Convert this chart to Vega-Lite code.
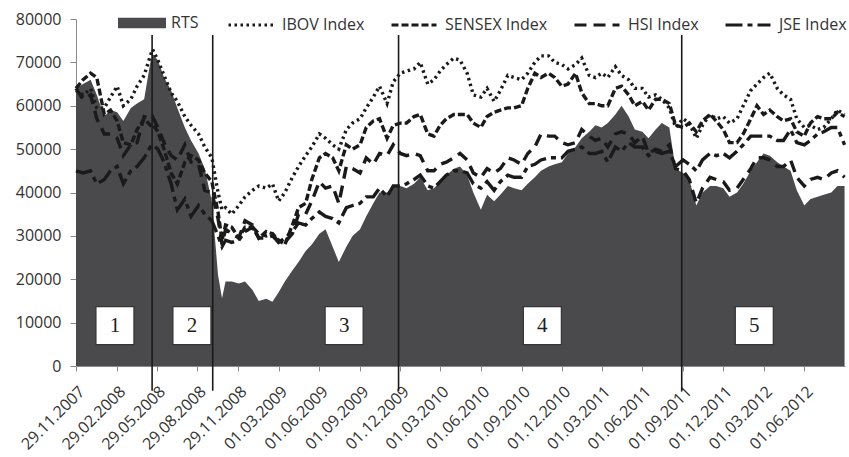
{
  "$schema": "https://vega.github.io/schema/vega-lite/v6.json",
  "width": 769,
  "height": 347,
  "autosize": {"type": "none"},
  "padding": {"left": 76, "top": 19, "right": 4, "bottom": 91},
  "background": "white",
  "config": {"view": {"stroke": null}, "font": "Open Sans"},
  "datasets": {
    "idx": [
      {"d":"2007-11-29","RTS":64000,"IBOV":63500,"SENSEX":64000,"HSI":64000,"JSE":45000},
      {"d":"2007-12-15","RTS":65000,"IBOV":62500,"SENSEX":66000,"HSI":61500,"JSE":44500},
      {"d":"2008-01-01","RTS":66000,"IBOV":63900,"SENSEX":67500,"HSI":62500,"JSE":45000},
      {"d":"2008-01-15","RTS":62500,"IBOV":59500,"SENSEX":66500,"HSI":57000,"JSE":42000},
      {"d":"2008-02-01","RTS":57500,"IBOV":59500,"SENSEX":58000,"HSI":53500,"JSE":43000},
      {"d":"2008-02-15","RTS":59000,"IBOV":62000,"SENSEX":59000,"HSI":53500,"JSE":45000},
      {"d":"2008-03-01","RTS":58500,"IBOV":64500,"SENSEX":56500,"HSI":52500,"JSE":46000},
      {"d":"2008-03-15","RTS":56500,"IBOV":60000,"SENSEX":51500,"HSI":48500,"JSE":42000},
      {"d":"2008-04-01","RTS":59500,"IBOV":61500,"SENSEX":51000,"HSI":51000,"JSE":45000},
      {"d":"2008-04-15","RTS":60500,"IBOV":64500,"SENSEX":54500,"HSI":51500,"JSE":46000},
      {"d":"2008-05-01","RTS":61500,"IBOV":67000,"SENSEX":57000,"HSI":57500,"JSE":48000},
      {"d":"2008-05-15","RTS":70000,"IBOV":71500,"SENSEX":55500,"HSI":57000,"JSE":50500},
      {"d":"2008-05-20","RTS":72000,"IBOV":73000,"SENSEX":55800,"HSI":57500,"JSE":51000},
      {"d":"2008-06-01","RTS":70500,"IBOV":70500,"SENSEX":54000,"HSI":55000,"JSE":50000},
      {"d":"2008-06-15","RTS":66500,"IBOV":67000,"SENSEX":50000,"HSI":51500,"JSE":47000},
      {"d":"2008-07-01","RTS":63500,"IBOV":63000,"SENSEX":44500,"HSI":48500,"JSE":42000},
      {"d":"2008-07-15","RTS":59500,"IBOV":61000,"SENSEX":42000,"HSI":47500,"JSE":36000},
      {"d":"2008-08-01","RTS":55000,"IBOV":57500,"SENSEX":47000,"HSI":51000,"JSE":38500},
      {"d":"2008-08-15","RTS":52000,"IBOV":55500,"SENSEX":48500,"HSI":47000,"JSE":34500},
      {"d":"2008-09-01","RTS":49000,"IBOV":53500,"SENSEX":47500,"HSI":46500,"JSE":37000},
      {"d":"2008-09-15","RTS":45500,"IBOV":50500,"SENSEX":44500,"HSI":40500,"JSE":35000},
      {"d":"2008-10-01","RTS":38000,"IBOV":48000,"SENSEX":42500,"HSI":40000,"JSE":33500},
      {"d":"2008-10-15","RTS":21000,"IBOV":40000,"SENSEX":35500,"HSI":34000,"JSE":30000},
      {"d":"2008-10-24","RTS":15600,"IBOV":36000,"SENSEX":29000,"HSI":28000,"JSE":27500},
      {"d":"2008-11-01","RTS":19500,"IBOV":36500,"SENSEX":32500,"HSI":31500,"JSE":29000},
      {"d":"2008-11-15","RTS":19500,"IBOV":35000,"SENSEX":32000,"HSI":30500,"JSE":28500},
      {"d":"2008-12-01","RTS":19000,"IBOV":37000,"SENSEX":29500,"HSI":29500,"JSE":29000},
      {"d":"2008-12-15","RTS":19500,"IBOV":39000,"SENSEX":32000,"HSI":33500,"JSE":31000},
      {"d":"2009-01-01","RTS":17500,"IBOV":40500,"SENSEX":32000,"HSI":32500,"JSE":32000},
      {"d":"2009-01-15","RTS":15000,"IBOV":41500,"SENSEX":29500,"HSI":29500,"JSE":30500},
      {"d":"2009-02-01","RTS":15500,"IBOV":41000,"SENSEX":31000,"HSI":29500,"JSE":30000},
      {"d":"2009-02-15","RTS":14800,"IBOV":42000,"SENSEX":30500,"HSI":30000,"JSE":30500},
      {"d":"2009-03-01","RTS":17000,"IBOV":38000,"SENSEX":29000,"HSI":28500,"JSE":28500},
      {"d":"2009-03-15","RTS":19500,"IBOV":40000,"SENSEX":28000,"HSI":28500,"JSE":29500},
      {"d":"2009-04-01","RTS":22000,"IBOV":43500,"SENSEX":32500,"HSI":30500,"JSE":31000},
      {"d":"2009-04-15","RTS":24000,"IBOV":46000,"SENSEX":36500,"HSI":35000,"JSE":33000},
      {"d":"2009-05-01","RTS":26500,"IBOV":48500,"SENSEX":37500,"HSI":35000,"JSE":32500},
      {"d":"2009-05-15","RTS":28000,"IBOV":50500,"SENSEX":43000,"HSI":38000,"JSE":34000},
      {"d":"2009-06-01","RTS":30500,"IBOV":53500,"SENSEX":48000,"HSI":42500,"JSE":35500},
      {"d":"2009-06-15","RTS":31500,"IBOV":52500,"SENSEX":49000,"HSI":41000,"JSE":34500},
      {"d":"2009-07-01","RTS":27500,"IBOV":51000,"SENSEX":48000,"HSI":41500,"JSE":34000},
      {"d":"2009-07-15","RTS":24000,"IBOV":50000,"SENSEX":45000,"HSI":37500,"JSE":33000},
      {"d":"2009-08-01","RTS":27500,"IBOV":54500,"SENSEX":51000,"HSI":46000,"JSE":36500},
      {"d":"2009-08-15","RTS":30000,"IBOV":56000,"SENSEX":50000,"HSI":45500,"JSE":37000},
      {"d":"2009-09-01","RTS":31500,"IBOV":57000,"SENSEX":51000,"HSI":44500,"JSE":37500},
      {"d":"2009-09-15","RTS":34500,"IBOV":59500,"SENSEX":55000,"HSI":48000,"JSE":39000},
      {"d":"2009-10-01","RTS":37500,"IBOV":62000,"SENSEX":56500,"HSI":46500,"JSE":39000},
      {"d":"2009-10-15","RTS":40000,"IBOV":64500,"SENSEX":57000,"HSI":49000,"JSE":41000},
      {"d":"2009-11-01","RTS":40000,"IBOV":60500,"SENSEX":52500,"HSI":48500,"JSE":39000},
      {"d":"2009-11-15","RTS":41500,"IBOV":65500,"SENSEX":55500,"HSI":51000,"JSE":41500},
      {"d":"2009-12-01","RTS":41500,"IBOV":67500,"SENSEX":56000,"HSI":49000,"JSE":41500},
      {"d":"2009-12-15","RTS":41000,"IBOV":68000,"SENSEX":56000,"HSI":48500,"JSE":42000},
      {"d":"2010-01-01","RTS":42000,"IBOV":68500,"SENSEX":57500,"HSI":49000,"JSE":43000},
      {"d":"2010-01-15","RTS":43500,"IBOV":70000,"SENSEX":58000,"HSI":48500,"JSE":44000},
      {"d":"2010-02-01","RTS":40500,"IBOV":65000,"SENSEX":53500,"HSI":45000,"JSE":41500},
      {"d":"2010-02-15","RTS":41000,"IBOV":66000,"SENSEX":53000,"HSI":45000,"JSE":41000},
      {"d":"2010-03-01","RTS":42500,"IBOV":68000,"SENSEX":55500,"HSI":46500,"JSE":42500},
      {"d":"2010-03-15","RTS":44000,"IBOV":69500,"SENSEX":57000,"HSI":47000,"JSE":44000},
      {"d":"2010-04-01","RTS":45500,"IBOV":71000,"SENSEX":58000,"HSI":48000,"JSE":45000},
      {"d":"2010-04-15","RTS":46000,"IBOV":70500,"SENSEX":58000,"HSI":49000,"JSE":45000},
      {"d":"2010-05-01","RTS":44000,"IBOV":67500,"SENSEX":58000,"HSI":47500,"JSE":44500},
      {"d":"2010-05-15","RTS":40000,"IBOV":62500,"SENSEX":56000,"HSI":44500,"JSE":42000},
      {"d":"2010-06-01","RTS":36000,"IBOV":62000,"SENSEX":55000,"HSI":43500,"JSE":41000},
      {"d":"2010-06-15","RTS":39500,"IBOV":64000,"SENSEX":57500,"HSI":45500,"JSE":42500},
      {"d":"2010-07-01","RTS":38000,"IBOV":61000,"SENSEX":58500,"HSI":44500,"JSE":40500},
      {"d":"2010-07-15","RTS":39500,"IBOV":63500,"SENSEX":59000,"HSI":45500,"JSE":42500},
      {"d":"2010-08-01","RTS":41500,"IBOV":67000,"SENSEX":59500,"HSI":48000,"JSE":44000},
      {"d":"2010-08-15","RTS":41000,"IBOV":66500,"SENSEX":59500,"HSI":47500,"JSE":43500},
      {"d":"2010-09-01","RTS":40500,"IBOV":66000,"SENSEX":60000,"HSI":46500,"JSE":43500},
      {"d":"2010-09-15","RTS":42000,"IBOV":67500,"SENSEX":64000,"HSI":49000,"JSE":46000},
      {"d":"2010-10-01","RTS":43500,"IBOV":70000,"SENSEX":67500,"HSI":50500,"JSE":46500},
      {"d":"2010-10-15","RTS":45000,"IBOV":71500,"SENSEX":66500,"HSI":53500,"JSE":47500},
      {"d":"2010-11-01","RTS":46000,"IBOV":71500,"SENSEX":67500,"HSI":53000,"JSE":48000},
      {"d":"2010-11-15","RTS":46500,"IBOV":70000,"SENSEX":66500,"HSI":53000,"JSE":48000},
      {"d":"2010-12-01","RTS":47000,"IBOV":69500,"SENSEX":64500,"HSI":51500,"JSE":48000},
      {"d":"2010-12-15","RTS":49000,"IBOV":68500,"SENSEX":65000,"HSI":51000,"JSE":49500},
      {"d":"2011-01-01","RTS":50500,"IBOV":69500,"SENSEX":67500,"HSI":51500,"JSE":50000},
      {"d":"2011-01-15","RTS":52500,"IBOV":71000,"SENSEX":63000,"HSI":54500,"JSE":50500},
      {"d":"2011-02-01","RTS":54000,"IBOV":67000,"SENSEX":60500,"HSI":53000,"JSE":49000},
      {"d":"2011-02-15","RTS":55500,"IBOV":66500,"SENSEX":60500,"HSI":52000,"JSE":49000},
      {"d":"2011-03-01","RTS":55000,"IBOV":67500,"SENSEX":60000,"HSI":52500,"JSE":49500},
      {"d":"2011-03-15","RTS":56000,"IBOV":66500,"SENSEX":60000,"HSI":50500,"JSE":47000},
      {"d":"2011-04-01","RTS":58000,"IBOV":69000,"SENSEX":64000,"HSI":53500,"JSE":50500},
      {"d":"2011-04-15","RTS":60000,"IBOV":67000,"SENSEX":64500,"HSI":54000,"JSE":49500},
      {"d":"2011-05-01","RTS":57500,"IBOV":66000,"SENSEX":62500,"HSI":53500,"JSE":51500},
      {"d":"2011-05-15","RTS":54500,"IBOV":64000,"SENSEX":60000,"HSI":51500,"JSE":50500},
      {"d":"2011-06-01","RTS":54000,"IBOV":64000,"SENSEX":61000,"HSI":53000,"JSE":50500},
      {"d":"2011-06-15","RTS":52500,"IBOV":62000,"SENSEX":59000,"HSI":49000,"JSE":48500},
      {"d":"2011-07-01","RTS":54500,"IBOV":62500,"SENSEX":61500,"HSI":50000,"JSE":49500},
      {"d":"2011-07-15","RTS":56000,"IBOV":61500,"SENSEX":61500,"HSI":49500,"JSE":49000},
      {"d":"2011-08-01","RTS":55000,"IBOV":59500,"SENSEX":60500,"HSI":51000,"JSE":49500},
      {"d":"2011-08-15","RTS":45500,"IBOV":55000,"SENSEX":55500,"HSI":45500,"JSE":46000},
      {"d":"2011-09-01","RTS":44500,"IBOV":57000,"SENSEX":55000,"HSI":45000,"JSE":47500},
      {"d":"2011-09-15","RTS":43000,"IBOV":56000,"SENSEX":56000,"HSI":43000,"JSE":46500},
      {"d":"2011-10-01","RTS":37000,"IBOV":52500,"SENSEX":54000,"HSI":37500,"JSE":45000},
      {"d":"2011-10-15","RTS":40000,"IBOV":55500,"SENSEX":56500,"HSI":41000,"JSE":47500},
      {"d":"2011-11-01","RTS":41500,"IBOV":58000,"SENSEX":58000,"HSI":43500,"JSE":49000},
      {"d":"2011-11-15","RTS":41500,"IBOV":57000,"SENSEX":56500,"HSI":43000,"JSE":48500},
      {"d":"2011-12-01","RTS":41000,"IBOV":57500,"SENSEX":54500,"HSI":42500,"JSE":49000},
      {"d":"2011-12-15","RTS":39000,"IBOV":56000,"SENSEX":51500,"HSI":40500,"JSE":48000},
      {"d":"2012-01-01","RTS":40000,"IBOV":57000,"SENSEX":51500,"HSI":41000,"JSE":49500},
      {"d":"2012-01-15","RTS":42000,"IBOV":60000,"SENSEX":53500,"HSI":43000,"JSE":51000},
      {"d":"2012-02-01","RTS":45000,"IBOV":63500,"SENSEX":57000,"HSI":45500,"JSE":53000},
      {"d":"2012-02-15","RTS":47000,"IBOV":65000,"SENSEX":60000,"HSI":48000,"JSE":53000},
      {"d":"2012-03-01","RTS":49000,"IBOV":66500,"SENSEX":58000,"HSI":48000,"JSE":53000},
      {"d":"2012-03-15","RTS":48500,"IBOV":67500,"SENSEX":59000,"HSI":47500,"JSE":53000},
      {"d":"2012-04-01","RTS":47000,"IBOV":64000,"SENSEX":57500,"HSI":46000,"JSE":52000},
      {"d":"2012-04-15","RTS":46000,"IBOV":62500,"SENSEX":56500,"HSI":46000,"JSE":52000},
      {"d":"2012-05-01","RTS":45000,"IBOV":61500,"SENSEX":57000,"HSI":47500,"JSE":54500},
      {"d":"2012-05-15","RTS":40500,"IBOV":57000,"SENSEX":54000,"HSI":43500,"JSE":51500},
      {"d":"2012-06-01","RTS":37000,"IBOV":55000,"SENSEX":53000,"HSI":41500,"JSE":51000},
      {"d":"2012-06-15","RTS":38500,"IBOV":55500,"SENSEX":56000,"HSI":43000,"JSE":52000},
      {"d":"2012-07-01","RTS":39000,"IBOV":54500,"SENSEX":57500,"HSI":43500,"JSE":53500},
      {"d":"2012-07-15","RTS":39500,"IBOV":55000,"SENSEX":57000,"HSI":43000,"JSE":54000},
      {"d":"2012-08-01","RTS":40000,"IBOV":57000,"SENSEX":57000,"HSI":44500,"JSE":55000},
      {"d":"2012-08-15","RTS":41500,"IBOV":59000,"SENSEX":58500,"HSI":45000,"JSE":55000},
      {"d":"2012-08-31","RTS":41500,"IBOV":58000,"SENSEX":57500,"HSI":43500,"JSE":51000}
    ],
    "boxes": [
      {"d":"2008-02-25","label":"1"},
      {"d":"2008-08-17","label":"2"},
      {"d":"2009-07-27","label":"3"},
      {"d":"2010-10-18","label":"4"},
      {"d":"2012-02-09","label":"5"}
    ],
    "events": [
      {"d":"2008-05-19"},
      {"d":"2008-10-03"},
      {"d":"2009-11-27"},
      {"d":"2011-08-29"}
    ]
  },
  "layer": [
    {
      "data": {"name": "idx"},
      "mark": {"type": "area", "color": "#4a4a4c"},
      "encoding": {
        "x": {
          "field": "d", "type": "temporal",
          "scale": {"type": "utc", "nice": false, "domain": [{"year":2007,"month":11,"date":29,"utc":true},{"year":2012,"month":9,"date":1,"utc":true}]},
          "axis": {
            "title": null, "grid": false,
            "values": [
              {"year":2007,"month":11,"date":29,"utc":true},
              {"year":2008,"month":2,"date":29,"utc":true},
              {"year":2008,"month":5,"date":29,"utc":true},
              {"year":2008,"month":8,"date":29,"utc":true},
              {"year":2008,"month":11,"date":29,"utc":true},
              {"year":2009,"month":3,"date":1,"utc":true},
              {"year":2009,"month":6,"date":1,"utc":true},
              {"year":2009,"month":9,"date":1,"utc":true},
              {"year":2009,"month":12,"date":1,"utc":true},
              {"year":2010,"month":3,"date":1,"utc":true},
              {"year":2010,"month":6,"date":1,"utc":true},
              {"year":2010,"month":9,"date":1,"utc":true},
              {"year":2010,"month":12,"date":1,"utc":true},
              {"year":2011,"month":3,"date":1,"utc":true},
              {"year":2011,"month":6,"date":1,"utc":true},
              {"year":2011,"month":9,"date":1,"utc":true},
              {"year":2011,"month":12,"date":1,"utc":true},
              {"year":2012,"month":3,"date":1,"utc":true},
              {"year":2012,"month":6,"date":1,"utc":true}
            ],
            "labelExpr": "utcFormat(datum.value, '%d.%m.%Y')",
            "labelAngle": -45, "labelFont": "Open Sans", "labelFontSize": 16, "labelColor": "#333",
            "domainColor": "#8a8a8a", "tickColor": "#8a8a8a", "tickSize": 5, "labelPadding": 12, "labelOverlap": false, "labelFlush": false
          }
        },
        "y": {
          "field": "RTS", "type": "quantitative",
          "scale": {"domain": [0, 80000], "nice": false},
          "axis": {
            "title": null, "grid": false,
            "values": [0,10000,20000,30000,40000,50000,60000,70000,80000],
            "format": "d", "labelFont": "Open Sans", "labelFontSize": 16, "labelColor": "#333",
            "domainColor": "#8a8a8a", "tickColor": "#8a8a8a", "tickSize": 6, "labelPadding": 9
          }
        },
        "fill": {
          "datum": "RTS", "type": "nominal",
          "scale": {"domain": ["RTS"], "range": ["#4a4a4c"]},
          "legend": {
            "orient": "none", "legendX": 42, "legendY": -20, "title": null, "padding": 0,
            "symbolType": "M-1,-0.22H1V0.22H-1Z", "symbolSize": 2304, "symbolStrokeWidth": 0,
            "labelFont": "Open Sans", "labelFontSize": 16, "labelColor": "#333", "labelOffset": 5
          }
        }
      }
    },
    {
      "data": {"name": "idx"},
      "transform": [{"fold": ["IBOV", "SENSEX", "HSI", "JSE"], "as": ["s", "v"]}],
      "mark": {"type": "line", "color": "#1a1a1a", "strokeWidth": 3.4},
      "encoding": {
        "x": {"field": "d", "type": "temporal"},
        "y": {"field": "v", "type": "quantitative"},
        "detail": {"field": "s"},
        "strokeDash": {
          "field": "s", "type": "nominal",
          "scale": {"domain": ["IBOV", "SENSEX", "HSI", "JSE"], "range": [[2.5, 3.5], [7, 3], [12, 7], [17, 5, 5, 5]]},
          "legend": {
            "orient": "none", "direction": "horizontal", "legendX": 151, "legendY": -18, "title": null, "padding": 0,
            "symbolType": "stroke", "symbolSize": 2025, "symbolStrokeWidth": 3, "symbolStrokeColor": "#1a1a1a",
            "labelExpr": "datum.label + ' Index'", "columnPadding": 20,
            "labelFont": "Open Sans", "labelFontSize": 16, "labelColor": "#333", "labelOffset": 7
          }
        }
      }
    },
    {
      "data": {"name": "events"},
      "mark": {"type": "rule", "color": "#1a1a1a", "strokeWidth": 1.6},
      "encoding": {
        "x": {"field": "d", "type": "temporal"},
        "y": {"datum": 76300},
        "y2": {"datum": -5700}
      }
    },
    {
      "data": {"name": "boxes"},
      "mark": {"type": "point", "shape": "square", "size": 1444, "filled": true, "fill": "white", "stroke": "#333", "strokeWidth": 1.2, "opacity": 1},
      "encoding": {
        "x": {"field": "d", "type": "temporal"},
        "y": {"datum": 9300}
      }
    },
    {
      "data": {"name": "boxes"},
      "mark": {"type": "text", "font": "Liberation Serif", "fontSize": 21, "color": "#222", "baseline": "middle", "align": "center"},
      "encoding": {
        "x": {"field": "d", "type": "temporal"},
        "y": {"datum": 9300},
        "text": {"field": "label"}
      }
    }
  ]
}
